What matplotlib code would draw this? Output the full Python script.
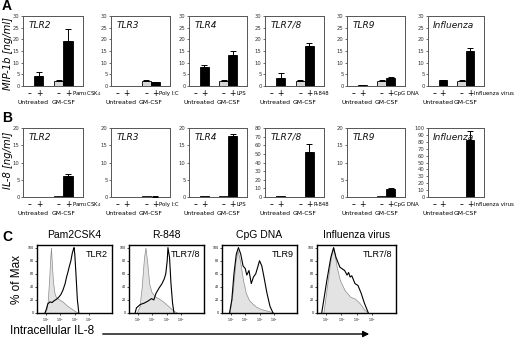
import matplotlib
matplotlib.use('Agg')
import matplotlib.pyplot as plt
from matplotlib.transforms import blended_transform_factory

# ---------------- data ----------------
titles = ['TLR2', 'TLR3', 'TLR4', 'TLR7/8', 'TLR9', 'Influenza']
stimuli = ['Pam$_3$CSK$_4$', 'Poly I:C', 'LPS', 'R-848', 'CpG DNA', 'Influenza virus']
sign_labels = ['\u2013', '+', '\u2013', '+']
group_labels = ['Untreated', 'GM-CSF']

# Panel A: MIP-1b [ng/ml]
mip_untr_minus = [0.1, 0.1, 0.1, 0.1, 0.1, 0.1]
mip_untr_plus = [4.5, 0.15, 8.3, 3.4, 0.5, 2.4]
mip_gm_minus = [2.2, 2.1, 2.1, 2.2, 2.2, 2.2]
mip_gm_plus = [19.3, 1.7, 13.2, 17.2, 3.6, 14.8]
mip_err_untr_plus = [1.5, 0.0, 0.7, 2.1, 0.1, 0.3]
mip_err_gm_minus = [0.3, 0.3, 0.3, 0.3, 0.3, 0.3]
mip_err_gm_plus = [5.0, 0.1, 1.8, 1.1, 0.2, 1.7]
mip_ymax = [30, 30, 30, 30, 30, 30]
mip_ystep = [5, 5, 5, 5, 5, 5]

# Panel B: IL-8 [ng/ml]
il8_untr_minus = [0.05, 0.05, 0.05, 0.2, 0.05, 0.3]
il8_untr_plus = [0.1, 0.05, 0.4, 1.5, 0.1, 0.3]
il8_gm_minus = [0.2, 0.25, 0.15, 0.3, 0.3, 0.5]
il8_gm_plus = [6.2, 0.1, 17.7, 52.0, 2.2, 82.0]
il8_err_untr_plus = [0.0, 0.0, 0.0, 0.0, 0.0, 0.0]
il8_err_gm_minus = [0.0, 0.0, 0.0, 0.0, 0.0, 0.0]
il8_err_gm_plus = [0.6, 0.05, 0.5, 10.0, 0.3, 13.0]
il8_ymax = [20, 20, 20, 80, 20, 100]
il8_ystep = [5, 5, 5, 10, 5, 10]

# Panel C: flow histograms (x = log10 fluorescence, y = % of max)
hist_titles = ['Pam2CSK4', 'R-848', 'CpG DNA', 'Influenza virus']
hist_tlr = ['TLR2', 'TLR7/8', 'TLR9', 'TLR7/8']

pam_gray_x = [1.90, 2.05, 2.15, 2.25, 2.32, 2.37, 2.42, 2.50, 2.60, 2.70, 2.85, 3.00, 3.15, 3.30, 3.50, 3.70, 3.90, 4.10, 4.30]
pam_gray_y = [0, 5, 20, 55, 85, 100, 80, 50, 32, 25, 22, 20, 18, 15, 11, 8, 5, 2, 0]
pam_black_x = [1.95, 2.05, 2.15, 2.30, 2.45, 2.60, 2.75, 2.90, 3.05, 3.20, 3.35, 3.45, 3.55, 3.65, 3.75, 3.85, 3.92, 3.97, 4.02, 4.10, 4.20, 4.30]
pam_black_y = [0, 6, 14, 17, 16, 19, 21, 24, 28, 35, 45, 55, 63, 72, 80, 92, 97, 100, 90, 60, 20, 0]

r848_gray_x = [1.92, 2.13, 2.28, 2.44, 2.54, 2.65, 2.80, 2.96, 3.22, 3.48, 3.74, 4.00, 4.26, 4.52, 4.78]
r848_gray_y = [0, 10, 40, 85, 100, 80, 45, 32, 25, 22, 18, 13, 8, 3, 0]
r848_black_x = [1.82, 1.92, 2.18, 2.44, 2.70, 2.96, 3.12, 3.27, 3.48, 3.69, 3.84, 3.95, 4.05, 4.10, 4.21, 4.31, 4.42, 4.52]
r848_black_y = [0, 8, 13, 15, 18, 22, 20, 30, 38, 45, 52, 60, 80, 100, 85, 45, 15, 0]

cpg_gray_x = [1.92, 2.13, 2.34, 2.49, 2.65, 2.86, 3.06, 3.27, 3.48, 3.74, 4.00, 4.26, 4.62, 5.04]
cpg_gray_y = [0, 30, 80, 95, 80, 50, 30, 20, 15, 10, 7, 5, 3, 0]
cpg_black_x = [1.92, 2.08, 2.23, 2.39, 2.54, 2.70, 2.86, 3.01, 3.12, 3.27, 3.43, 3.58, 3.74, 3.90, 4.00, 4.16, 4.31, 4.52, 4.73, 4.94]
cpg_black_y = [0, 20, 60, 90, 100, 90, 72, 68, 58, 65, 45, 55, 60, 72, 80, 72, 55, 30, 10, 0]

flu_gray_x = [1.82, 2.05, 2.31, 2.49, 2.70, 2.91, 3.22, 3.58, 3.90, 4.21, 4.52, 4.78]
flu_gray_y = [0, 40, 85, 100, 70, 50, 35, 25, 22, 15, 5, 0]
flu_black_x = [1.71, 2.05, 2.31, 2.49, 2.65, 2.91, 3.22, 3.38, 3.48, 3.58, 3.69, 3.90, 4.10, 4.31, 4.52, 4.78]
flu_black_y = [0, 50, 85, 100, 85, 70, 65, 58, 62, 55, 57, 45, 42, 30, 15, 0]

hist_gray = [(pam_gray_x, pam_gray_y), (r848_gray_x, r848_gray_y), (cpg_gray_x, cpg_gray_y), (flu_gray_x, flu_gray_y)]
hist_black = [(pam_black_x, pam_black_y), (r848_black_x, r848_black_y), (cpg_black_x, cpg_black_y), (flu_black_x, flu_black_y)]

# ---------------- layout ----------------
W, H = 520, 341
fig = plt.figure(figsize=(W / 100, H / 100), dpi=100)
fig.patch.set_facecolor('white')


def add_ax(x0, y0, x1, y1):
    return fig.add_axes([x0 / W, 1 - y1 / H, (x1 - x0) / W, (y1 - y0) / H])


bar_left = [23, 111, 189, 265, 347, 428]
bar_right = [83, 170, 247, 324, 405, 484]
bar_pos = [0.75, 1.75, 3.95, 4.95]
bar_colors = ['white', 'black', '#d6d6d6', 'black']


def bar_panel(ax, title, stim, vals, errs, ymax, ystep):
    ax.bar(bar_pos, vals, width=1.0, color=bar_colors, edgecolor='black', linewidth=0.6, zorder=2)
    for p, v, e in zip(bar_pos, vals, errs):
        if e > 0:
            ax.errorbar([p], [v], yerr=[[0], [e]], fmt='none', ecolor='black',
                        elinewidth=0.7, capsize=2.2, capthick=0.7, zorder=3)
    ax.set_xlim(0, 6.6)
    ax.set_ylim(0, ymax)
    ax.set_yticks(list(range(0, ymax + 1, ystep)))
    ax.set_xticks([])
    ax.tick_params(axis='y', labelsize=3.8, length=1.5, width=0.5, pad=1, colors='#333333')
    for s in ax.spines.values():
        s.set_linewidth(0.7)
        s.set_color('#555555')
    ax.text(0.09, 0.93, title, transform=ax.transAxes, ha='left', va='top',
            fontsize=6.5, style='italic', color='#111111')
    tr = blended_transform_factory(ax.transData, ax.transAxes)
    for p, s in zip(bar_pos, sign_labels):
        ax.text(p, -0.11, s, transform=tr, ha='center', va='center', fontsize=5.5)
    ax.text(5.4, -0.11, stim, transform=tr, ha='left', va='center', fontsize=3.9)
    ax.text(1.15, -0.24, group_labels[0], transform=tr, ha='center', va='center', fontsize=4.4)
    ax.text(4.45, -0.24, group_labels[1], transform=tr, ha='center', va='center', fontsize=4.4)


for i in range(6):
    ax = add_ax(bar_left[i], 16, bar_right[i], 86)
    bar_panel(ax, titles[i], stimuli[i],
              [mip_untr_minus[i], mip_untr_plus[i], mip_gm_minus[i], mip_gm_plus[i]],
              [0, mip_err_untr_plus[i], mip_err_gm_minus[i], mip_err_gm_plus[i]],
              mip_ymax[i], mip_ystep[i])
    ax = add_ax(bar_left[i], 128, bar_right[i], 197)
    bar_panel(ax, titles[i], stimuli[i],
              [il8_untr_minus[i], il8_untr_plus[i], il8_gm_minus[i], il8_gm_plus[i]],
              [0, il8_err_untr_plus[i], il8_err_gm_minus[i], il8_err_gm_plus[i]],
              il8_ymax[i], il8_ystep[i])

fig.text(8 / W, 1 - 53 / H, 'MIP-1b [ng/ml]', rotation=90, ha='center', va='center',
         fontsize=7.2, style='italic')
fig.text(8 / W, 1 - 160 / H, 'IL-8 [ng/ml]', rotation=90, ha='center', va='center',
         fontsize=7.2, style='italic')

for lab, y in [('A', 6), ('B', 118), ('C', 237)]:
    fig.text(2 / W, 1 - y / H, lab, ha='left', va='center', fontsize=10,
             fontweight='bold', family='Liberation Sans')

# ---------------- panel C ----------------
hist_left = [37, 129, 222, 317]
hist_right = [112, 204, 297, 396]
for i in range(4):
    ax = add_ax(hist_left[i], 245, hist_right[i], 313)
    gx, gy = hist_gray[i]
    bx, by = hist_black[i]
    ax.fill_between(gx, gy, 0, facecolor='#e3e3e3', edgecolor='#8c8c8c', linewidth=0.5, zorder=1)
    ax.plot(bx, by, color='black', linewidth=0.8, zorder=2)
    ax.set_xlim(1.4, 6.6)
    ax.set_ylim(0, 104)
    ax.set_xticks([2, 3, 4, 5])
    ax.set_xticklabels(['10$^2$', '10$^3$', '10$^4$', '10$^5$'])
    ax.set_yticks([0, 20, 40, 60, 80, 100])
    ax.tick_params(labelsize=2.3, length=1.5, width=0.5, pad=0.8)
    for s in ax.spines.values():
        s.set_linewidth(1.0)
    ax.text(0.95, 0.93, hist_tlr[i], transform=ax.transAxes, ha='right', va='top',
            fontsize=6.5, family='Liberation Sans')
    fig.text((hist_left[i] + hist_right[i]) / 2 / W, 1 - 235 / H, hist_titles[i],
             ha='center', va='center', fontsize=7.5, family='Liberation Sans')

fig.text(17 / W, 1 - 280 / H, '% of Max', rotation=90, ha='center', va='center',
         fontsize=8.5, family='Liberation Sans')
fig.text(10 / W, 1 - 331 / H, 'Intracellular IL-8', ha='left', va='center',
         fontsize=8.5, family='Liberation Sans')
fig.add_artist(matplotlib.patches.FancyArrowPatch(
    (100 / W, 1 - 334 / H), (372 / W, 1 - 334 / H), transform=fig.transFigure,
    arrowstyle='-|>', mutation_scale=9, linewidth=1.0, color='black'))

fig.savefig('out.png', dpi=100, facecolor='white')
